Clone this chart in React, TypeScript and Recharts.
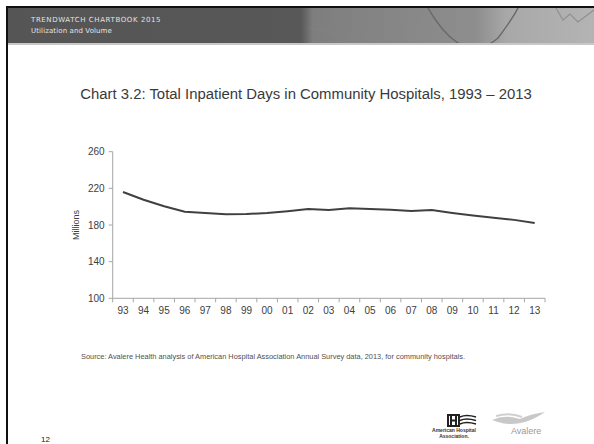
import { LineChart, Line, XAxis, YAxis } from "recharts";

const years = ["93", "94", "95", "96", "97", "98", "99", "00", "01", "02", "03", "04", "05", "06", "07", "08", "09", "10", "11", "12", "13"];
const inpatientDays = [216, 207.5, 200.5, 194.5, 193, 191.6, 192, 193, 195, 197.4, 196.5, 198.2, 197.4, 196.6, 195.2, 196.3, 193.2, 190.3, 187.8, 185.6, 182.3];
const yTicks = [100, 140, 180, 220, 260];

const data = years.map((y, i) => ({ year: y, days: inpatientDays[i] }));

const FONT = "'Liberation Sans', Arial, sans-serif";
const AXIS_GREY = "#a6a6a6";

// label centred in its band, small tick mark on the band boundaries (Excel style)
const YearTick = (props: any) => {
  const { x, y, payload, index } = props;
  const half = 432.3 / years.length / 2;
  return (
    <g>
      <line x1={x - half} x2={x - half} y1={y} y2={y + 4} stroke={AXIS_GREY} />
      {index === years.length - 1 && (
        <line x1={x + half} x2={x + half} y1={y} y2={y + 4} stroke={AXIS_GREY} />
      )}
      <text x={x} y={y + 12} textAnchor="middle" dominantBaseline="central" fill="#404040" fontSize={10} fontFamily={FONT}>
        {payload.value}
      </text>
    </g>
  );
};

export default function App() {
  return (
    <div style={{ position: "absolute", left: 0, top: 0, width: 594, height: 444, background: "#fff", overflow: "hidden", fontFamily: FONT }}>
      <style>{"html,body{margin:0;overflow:hidden;background:#fff}"}</style>
      {/* slide frame */}
      <div style={{ position: "absolute", left: 6, top: 6, width: 588, height: 2, background: "#111" }} />
      <div style={{ position: "absolute", left: 6, top: 6, width: 2, height: 438, background: "#111" }} />

      {/* header band */}
      <div
        style={{
          position: "absolute",
          left: 8,
          top: 8,
          width: 586,
          height: 35,
          background: "linear-gradient(to right, #555 0%, #585858 50%, #7e7e7e 52%, #8e8e8e 80%, #a8a8a8 85%, #b4b4b4 100%)",
          borderBottom: "2px solid #c8c8c8",
        }}
      >
        <svg width={586} height={35} style={{ position: "absolute", left: 0, top: 0 }}>
          <path d="M 420 0 Q 455 60 490 30 Q 505 10 510 0" stroke="#6a6a6a" strokeWidth={1.5} fill="none" />
          <path d="M 548 0 L 555 12 L 562 6 L 570 14 L 586 2" stroke="#909090" strokeWidth={1.2} fill="none" />
          <path d="M 330 35 L 400 0 M 360 35 L 430 0 M 300 20 L 380 35" stroke="#888" strokeWidth={0.6} fill="none" opacity={0.5} />
        </svg>
        <div style={{ position: "absolute", left: 23, top: 8, fontSize: 7, color: "#e2e2e2", letterSpacing: 0.6, fontFamily: "'DejaVu Sans', sans-serif", whiteSpace: "nowrap" }}>
          TRENDWATCH CHARTBOOK 2015
        </div>
        <div style={{ position: "absolute", left: 23, top: 19, fontSize: 7, color: "#e2e2e2", letterSpacing: 0.1, fontFamily: "'DejaVu Sans', sans-serif", whiteSpace: "nowrap" }}>
          Utilization and Volume
        </div>
      </div>

      {/* title */}
      <div style={{ position: "absolute", left: 0, top: 86, width: 612, textAlign: "center", fontSize: 14.9, color: "#3a3a3a", whiteSpace: "nowrap" }}>
        Chart 3.2: Total Inpatient Days in Community Hospitals, 1993 – 2013
      </div>

      <div style={{ position: "absolute", left: 0, top: 0 }}>
        <LineChart width={594} height={444} data={data} margin={{ top: 151.7, right: 49, bottom: 115.7, left: 72.7 }}>
          <XAxis
            dataKey="year"
            scale="band"
            stroke={AXIS_GREY}
            tickLine={false}
            tickSize={0}
            tickMargin={0}
            height={30}
            interval={0}
            tick={<YearTick />}
          />
          <YAxis
            domain={[100, 260]}
            ticks={yTicks}
            width={40}
            stroke={AXIS_GREY}
            tickSize={4}
            tickMargin={4}
            tick={{ fill: "#404040", fontSize: 10, fontFamily: FONT }}
            label={{ value: "Millions", angle: -90, position: "insideLeft", offset: 3, style: { fill: "#404040", fontSize: 9, fontFamily: FONT, textAnchor: "middle" } }}
          />
          <Line type="linear" dataKey="days" stroke="#404040" strokeWidth={2} dot={false} isAnimationActive={false} />
        </LineChart>
      </div>

      {/* source */}
      <div style={{ position: "absolute", left: 81, top: 352, fontSize: 7.4, color: "#505050", whiteSpace: "nowrap" }}>
        Source: Avalere Health analysis of American Hospital Association Annual Survey data, 2013, for community hospitals.
      </div>

      {/* logos */}
      <svg width={60} height={14} style={{ position: "absolute", left: 446, top: 414 }}>
        <rect x={2} y={1} width={11} height={11} fill="none" stroke="#222" strokeWidth={2} />
        <path d="M 5 2 V 11 M 10 2 V 11 M 5 6.5 H 10" stroke="#222" strokeWidth={2} />
        <path d="M 14 3 Q 20 0 30 3 M 14 6.5 Q 20 3.5 30 6.5 M 14 10 Q 20 7 30 10" stroke="#222" strokeWidth={1.5} fill="none" />
      </svg>
      <div style={{ position: "absolute", left: 420, top: 427, width: 68, textAlign: "center", fontSize: 5, fontWeight: "bold", color: "#333", lineHeight: "6px" }}>
        American Hospital
        <br />
        Association.
      </div>
      <svg width={60} height={18} style={{ position: "absolute", left: 490, top: 410 }}>
        <path d="M 2 10 Q 15 4 30 9 Q 40 4 55 2 Q 45 9 35 12 Q 20 16 8 12 Z" fill="#c8c8c8" />
        <path d="M 6 6 Q 20 2 32 7" stroke="#d0d0d0" strokeWidth={2} fill="none" />
      </svg>
      <div style={{ position: "absolute", left: 511, top: 426, fontSize: 9, color: "#999", whiteSpace: "nowrap" }}>Avalere</div>

      {/* page number */}
      <div style={{ position: "absolute", left: 41, top: 435, fontSize: 8, color: "#222" }}>12</div>
    </div>
  );
}
